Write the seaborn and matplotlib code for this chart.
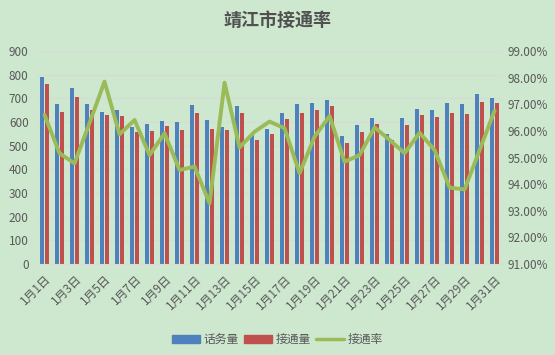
import matplotlib
matplotlib.use("Agg")
import matplotlib.pyplot as plt
import numpy as np
import pandas as pd
import seaborn as sns
from matplotlib.lines import Line2D
from matplotlib.patches import Patch
from matplotlib.ticker import FuncFormatter

days = [f"1月{d}日" for d in range(1, 32)]
calls = [790, 676, 745, 676, 644, 651, 580, 592, 606, 601, 672, 608, 577, 668, 545, 570,
         638, 676, 680, 693, 541, 587, 617, 549, 617, 655, 651, 680, 676, 718, 701]
connected = [762, 644, 707, 651, 630, 627, 559, 562, 585, 568, 639, 570, 566, 639, 524, 549,
             613, 639, 651, 668, 511, 558, 592, 524, 587, 630, 621, 638, 634, 685, 680]
rate = [96.60, 95.16, 94.78, 96.30, 97.85, 95.87, 96.41, 95.09, 95.91, 94.53, 94.66, 93.28,
        97.81, 95.38, 95.97, 96.35, 96.10, 94.41, 95.78, 96.56, 94.84, 95.09, 96.13, 95.66,
        95.16, 95.93, 95.28, 93.87, 93.80, 95.28, 96.76]
series_names = ["话务量", "接通量", "接通率"]

BG = "#CDE8CF"
BLUE = "#4F81BD"
RED = "#C0504D"
GREEN = "#9BBB59"
TXT = "#595959"
GRID = "#D9D9D9"

sns.set_style("white")
plt.rcParams["font.family"] = ["Noto Sans CJK SC", "DejaVu Sans"]

df = pd.DataFrame({
    "日期": days * 2,
    "值": calls + connected,
    "系列": [series_names[0]] * 31 + [series_names[1]] * 31,
})

fig = plt.figure(figsize=(5.55, 3.55), dpi=100)
fig.patch.set_facecolor(BG)
ax = fig.add_axes([0.0667, 0.2563, 0.838, 0.6])
ax.set_facecolor(BG)

sns.barplot(data=df, x="日期", y="值", hue="系列", palette=[BLUE, RED],
            width=0.6, gap=0.1, ax=ax, legend=False, saturation=1, linewidth=0)
ax.set_xlim(-0.5, 30.5)
ax.set_ylim(0, 900)
ax.set_yticks(range(0, 901, 100))
ax.yaxis.grid(True, color=GRID, lw=0.8)
ax.set_axisbelow(True)
ax.set_xlabel("")
ax.set_ylabel("")
ax.tick_params(axis="y", length=0, labelsize=8.5, labelcolor=TXT, pad=6)

# x ticks: labels on odd days, tick marks every two categories
ax.set_xticks(range(0, 31, 2))
ax.set_xticklabels(days[::2], rotation=45, ha="right", rotation_mode="anchor",
                   fontsize=8.5, color=TXT)
ax.set_xticks(np.arange(-0.5, 31, 2), minor=True)
ax.tick_params(axis="x", which="major", length=0, pad=6)
ax.tick_params(axis="x", which="minor", length=4, color=GRID, width=0.8)
for s in ["top", "left", "right"]:
    ax.spines[s].set_visible(False)
ax.spines["bottom"].set_color(GRID)

ax2 = ax.twinx()
sns.lineplot(x=np.arange(31), y=rate, ax=ax2, color=GREEN, lw=2.8)
ax2.set_ylim(91, 99)
ax2.set_yticks(range(91, 100))
ax2.yaxis.set_major_formatter(FuncFormatter(lambda v, p: f"{v:.2f}%"))
ax2.tick_params(axis="y", length=0, labelsize=8.5, labelcolor=TXT, pad=4)
for s in ["top", "left", "right", "bottom"]:
    ax2.spines[s].set_visible(False)

fig.text(0.5, 0.943, "靖江市接通率", ha="center", va="center", fontsize=13,
         fontweight="bold", color="#505050")

handles = [Patch(color=BLUE), Patch(color=RED), Line2D([], [], color=GREEN, lw=2.5)]
fig.legend(handles, series_names, loc="center", bbox_to_anchor=(0.5, 0.043), ncol=3,
           frameon=False, fontsize=8.5, labelcolor=TXT, handlelength=2.4,
           handleheight=0.6, handletextpad=0.3, columnspacing=0.4)

fig.savefig("out.png", dpi=100, facecolor=BG)
